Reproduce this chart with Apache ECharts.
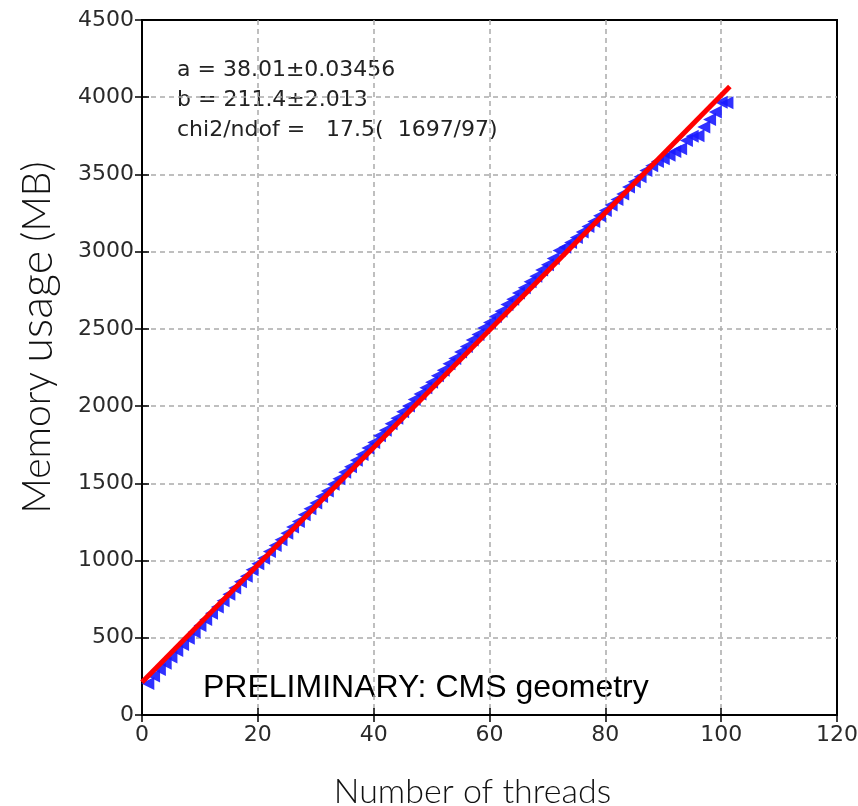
<!DOCTYPE html>
<html>
<head>
<meta charset="utf-8">
<script src="https://cdn.jsdelivr.net/npm/echarts@6/dist/echarts.min.js"></script>
<style>html,body{margin:0;padding:0;background:#fff}#c{width:858px;height:806px}</style>
</head>
<body>
<div id="c"></div>
<script>
var threads = [1,2,3,4,5,6,7,8,9,10,11,12,13,14,15,16,17,18,19,20,21,22,23,24,25,26,27,28,29,30,31,32,33,34,35,36,37,38,39,40,41,42,43,44,45,46,47,48,49,50,51,52,53,54,55,56,57,58,59,60,61,62,63,64,65,66,67,68,69,70,71,72,73,74,75,76,77,78,79,80,81,82,83,84,85,86,87,88,89,90,91,92,93,94,95,96,97,98,99,100,101];
var memoryMB = [204,252,295,335,376,417,457,497,538,579,619,659,700,740,782,822,863,899,940,980,1015,1058,1098,1134,1177,1218,1253,1296,1336,1372,1415,1450,1494,1529,1572,1608,1650,1686,1729,1765,1808,1844,1886,1922,1964,2000,2042,2078,2119,2155,2196,2232,2274,2309,2350,2386,2428,2463,2506,2541,2580,2615,2658,2692,2732,2766,2806,2841,2881,2916,2956,3008,3028,3059,3092,3128,3163,3196,3232,3267,3302,3338,3374,3419,3452,3485,3526,3556,3584,3602,3625,3648,3666,3719,3747,3750,3808,3856,3904,3967,3965];
var fitLineX = [0, 101.5];
var fitLineY = [211.4, 4069.4];
var xTicks = [0,20,40,60,80,100,120];
var yTicks = [0,500,1000,1500,2000,2500,3000,3500,4000,4500];
var fitText = ['a = 38.01\u00b10.03456', 'b = 211.4\u00b12.013', 'chi2/ndof =   17.5(  1697/97)'];
var prelimText = 'PRELIMINARY: CMS geometry';

var pts = threads.map(function(t,i){return [t, memoryMB[i]];});
var fit = fitLineX.map(function(x,i){return [x, fitLineY[i]];});

var chart = echarts.init(document.getElementById('c'), null, {renderer:'canvas'});
var tickFont = {fontFamily:'DejaVu Sans', fontSize:22, color:'#2a2a2a', formatter:function(v){return String(v);}};
var gridLine = {show:true, showMinLine:false, showMaxLine:false, lineStyle:{color:'#aaa', type:[5,4], width:1.5}};
var nameFont = {fontFamily:'Lato', fontWeight:300, fontSize:34, color:'#111'};
chart.setOption({
  animation:false,
  grid:{left:142, right:21, top:20, bottom:91, outerBoundsMode:'none', containLabel:false, show:true, borderColor:'#000', borderWidth:2, backgroundColor:'transparent'},
  xAxis:[{
    type:'value', min:0, max:120, interval:20, position:'bottom',
    axisLine:{show:true, lineStyle:{color:'#000', width:2}},
    axisTick:{show:true, inside:true, length:7, lineStyle:{color:'#000', width:1.5}},
    axisLabel:Object.assign({margin:9}, tickFont),
    splitLine:gridLine,
    name:'Number of threads', nameLocation:'middle', nameGap:60,
    nameTextStyle:Object.assign({padding:[0,34,0,0]}, nameFont)
  },{
    type:'value', min:0, max:120, interval:20, position:'top',
    axisLine:{show:false}, axisLabel:{show:false}, splitLine:{show:false},
    axisTick:{show:true, inside:true, length:7, lineStyle:{color:'#000', width:1.5}}
  }],
  yAxis:[{
    type:'value', min:0, max:4500, interval:500, position:'left',
    axisLine:{show:true, lineStyle:{color:'#000', width:2}},
    axisTick:{show:true, inside:true, length:7, lineStyle:{color:'#000', width:1.5}},
    axisLabel:Object.assign({margin:8}, tickFont),
    splitLine:gridLine,
    name:'{m|Memory} {u|usage} {m|(MB)}', nameLocation:'middle', nameGap:82, nameRotate:90,
    nameTextStyle:Object.assign({}, nameFont, {padding:[0,0,0,60], rich:{m:{fontFamily:'Lato', fontWeight:300, fontSize:39, color:'#111'}, u:{fontFamily:'Lato', fontWeight:300, fontSize:45, color:'#111'}}})
  },{
    type:'value', min:0, max:4500, interval:500, position:'right',
    axisLine:{show:false}, axisLabel:{show:false}, splitLine:{show:false},
    axisTick:{show:true, inside:true, length:7, lineStyle:{color:'#000', width:1.5}}
  }],
  series:[{
    type:'scatter', data:pts, xAxisIndex:0, yAxisIndex:0,
    symbol:'triangle', symbolRotate:90, symbolSize:[13,13],
    itemStyle:{color:'#1a1aff', opacity:0.9}, z:2
  },{
    type:'line', data:fit, xAxisIndex:0, yAxisIndex:0, showSymbol:false, symbol:'none',
    lineStyle:{color:'#ff0000', width:5}, z:3, silent:true
  }],
  graphic:[
    {type:'text', left:177, top:55, style:{text:fitText.join('\n'), font:'22px "DejaVu Sans"', fill:'#222', lineHeight:30}},
    {type:'text', x:203, y:688, style:{text:prelimText, font:'32px "Liberation Sans"', fill:'#000', verticalAlign:'middle'}}
  ]
});
</script>
</body>
</html>
